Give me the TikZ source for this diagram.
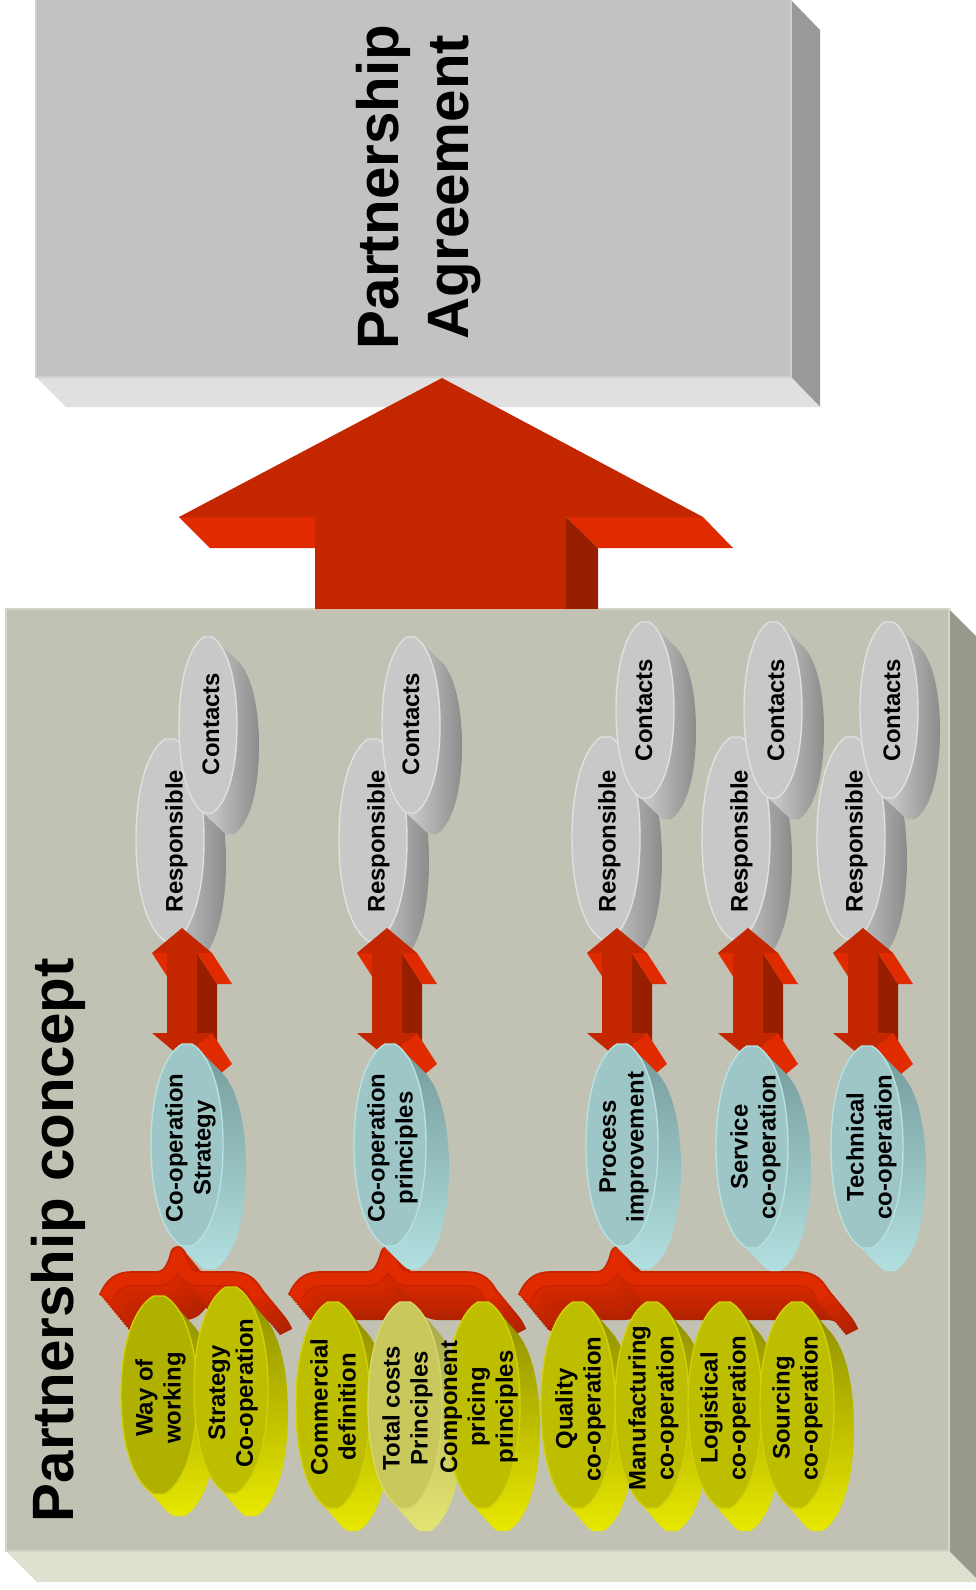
\documentclass[tikz,border=0pt]{standalone}
\usepackage{fontspec}
\setmainfont{Liberation Sans}

% palette
\definecolor{boxfront}{RGB}{194,194,194}
\definecolor{boxrim}{RGB}{208,208,208}
\definecolor{boxside}{RGB}{153,153,153}
\definecolor{boxbottom}{RGB}{224,224,224}
\definecolor{panelfront}{RGB}{194,194,180}
\definecolor{panelrim}{RGB}{214,214,200}
\definecolor{panelside}{RGB}{152,152,140}
\definecolor{panelbottom}{RGB}{224,224,208}
\definecolor{arrowfront}{RGB}{196,38,0}
\definecolor{arrowlight}{RGB}{224,42,0}
\definecolor{arrowdark}{RGB}{152,30,0}
\definecolor{braceedge}{RGB}{200,36,0}
\definecolor{grayfront}{RGB}{200,200,200}
\definecolor{grayrim}{RGB}{224,224,224}
\definecolor{graysideA}{RGB}{236,236,236}
\definecolor{graysideB}{RGB}{140,140,140}
\definecolor{cyanfront}{RGB}{158,198,198}
\definecolor{cyanrim}{RGB}{182,226,226}
\definecolor{cyansideA}{RGB}{178,224,224}
\definecolor{cyansideB}{RGB}{116,154,154}
\definecolor{yelfront}{RGB}{190,190,0}
\definecolor{yeldeep}{RGB}{176,176,0}
\definecolor{yelrim}{RGB}{208,208,10}
\definecolor{yelsideA}{RGB}{232,232,0}
\definecolor{yelsideB}{RGB}{140,140,0}
\definecolor{olivefront}{RGB}{200,200,92}
\definecolor{oliverim}{RGB}{214,214,110}
\definecolor{olivesideA}{RGB}{228,228,116}
\definecolor{olivesideB}{RGB}{165,165,70}

% upright lens outline, slightly blunted at both ends: cx, cy, rx, ry
\newcommand\lenspath[4]{(#1-0.14*#3,#2-#4) -- (#1+0.14*#3,#2-#4)
  .. controls (#1+0.62*#3,#2-0.9*#4) and (#1+#3,#2-0.55*#4) .. (#1+#3,#2)
  .. controls (#1+#3,#2+0.55*#4) and (#1+0.62*#3,#2+0.9*#4) .. (#1+0.14*#3,#2+#4)
  -- (#1-0.14*#3,#2+#4)
  .. controls (#1-0.62*#3,#2+0.9*#4) and (#1-#3,#2+0.55*#4) .. (#1-#3,#2)
  .. controls (#1-#3,#2-0.55*#4) and (#1-0.62*#3,#2-0.9*#4) .. cycle}

% extruded disc: cx, cy, rx, ry, dx, dy, front colour, side style, rim colour
\newcommand\diskshape[9]{%
  \shade[#8] \foreach \k in {0,...,16}{\lenspath{#1+#5*\k/16}{#2+#6*\k/16}{#3}{#4}};
  \filldraw[fill=#7, draw=#9, line width=0.8pt, line join=round] \lenspath{#1}{#2}{#3}{#4};
}

% double-headed 3D arrow centred at x=#1
\newcommand\twinarrow[1]{%
  \fill[arrowdark] (#1+15,953) -- (#1+35,984) -- (#1+35,1064) -- (#1+15,1033) -- cycle;
  \fill[arrowlight] (#1-30,953) -- (#1-15,953) -- (#1+5,984) -- (#1-10,984) -- cycle;
  \fill[arrowlight] (#1+15,953) -- (#1+30,953) -- (#1+50,984) -- (#1+35,984) -- cycle;
  \fill[arrowlight] (#1+30,1033) -- (#1,1058) -- (#1+20,1089) -- (#1+50,1064) -- cycle;
  \fill[arrowfront] (#1,928) -- (#1+30,953) -- (#1+15,953) -- (#1+15,1033) -- (#1+30,1033)
    -- (#1,1058) -- (#1-30,1033) -- (#1-15,1033) -- (#1-15,953) -- (#1-30,953) -- cycle;
}

% horizontal curly bracket: left end, peak, right end
\newcommand\bracketpath[3]{(#1,1298) .. controls (#1+6,1285) and (#1+12,1279) .. (#1+26,1279)
  -- (#2-22,1279) .. controls (#2-10,1279) and (#2-4,1270) .. (#2,1254)
  .. controls (#2+4,1270) and (#2+10,1279) .. (#2+22,1279)
  -- (#3-26,1279) .. controls (#3-12,1279) and (#3-6,1285) .. (#3,1298)}

\newcommand\bracketshape[3]{%
  \foreach \k in {0,...,14}{%
    \pgfmathsetmacro\tt{1-\k/14}
    \pgfmathtruncatemacro\pct{65-4*\k}
    \draw[arrowdark!\pct!arrowlight, line width=8pt, line join=round, shift={({28*\tt},{34*\tt})}] \bracketpath{#1}{#2}{#3};
  }
  \draw[braceedge, line width=9pt, line join=round] \bracketpath{#1}{#2}{#3};
  \draw[arrowlight, line width=7pt, line join=round] \bracketpath{#1}{#2}{#3};
}

\begin{document}
\begin{tikzpicture}[x=0.02cm, y=-0.02cm,
  lbl/.style={font=\fontsize{13.6}{15.9}\selectfont\bfseries, rotate=90, anchor=north, inner sep=0pt, align=center, text=black},
  big/.style={font=\fontsize{33.2}{39.7}\selectfont\bfseries, rotate=90, anchor=north, inner sep=0pt, align=center, text=black},
  graysides/.style={left color=graysideA, right color=graysideB},
  cyansides/.style={top color=cyansideB, bottom color=cyansideA},
  yelsides/.style={top color=yelsideB, bottom color=yelsideA},
  olivesides/.style={top color=olivesideB, bottom color=olivesideA}]
\useasboundingbox (0,0) rectangle (976,1590);
\clip (0,0) rectangle (976,1590);
\fill[white] (0,0) rectangle (976,1590);

% ---- agreement block
\fill[boxside] (791,0) -- (820,30) -- (820,407) -- (791,377) -- cycle;
\fill[boxbottom] (36,377) -- (791,377) -- (820,407) -- (66,407) -- cycle;
\filldraw[fill=boxfront, draw=boxrim, line width=0.8pt] (36,-2) rectangle (791,377);
\node[big] (agreement) at (356,187) {Partnership\\Agreement};

% ---- concept panel
\fill[panelside] (949,609) -- (985,645) -- (985,1587) -- (949,1551) -- cycle;
\fill[panelbottom] (6,1551) -- (949,1551) -- (980,1582) -- (37,1582) -- cycle;
\filldraw[fill=panelfront, draw=panelrim, line width=0.8pt] (6,609) rectangle (949,1551);
\node[big] (concept) at (31,1240) {Partnership concept};

% ---- main upward arrow
\fill[arrowlight] (179,517) -- (315,517) -- (315,548) -- (210,548) -- cycle;
\fill[arrowlight] (566,517) -- (703,517) -- (733,548) -- (598,548) -- cycle;
\fill[arrowdark] (566,517) -- (598,548) -- (598,609) -- (566,609) -- cycle;
\fill[arrowfront] (442,378) -- (703,517) -- (566,517) -- (566,609) -- (315,609)
  -- (315,517) -- (179,517) -- cycle;

% ---- brackets joining the yellow groups
\bracketshape{106}{178}{258}
\bracketshape{295}{388}{492}
\bracketshape{525}{618}{824}

% ---- responsible / contacts discs
\diskshape{170}{840}{34}{101}{22}{22}{grayfront}{graysides}{grayrim}
\node[lbl] (resp1) at (165,841) {Responsible};
\diskshape{208}{725}{29}{88}{22}{21}{grayfront}{graysides}{grayrim}
\node[lbl] (cont1) at (202,724) {Contacts};

\diskshape{373}{840}{34}{101}{22}{22}{grayfront}{graysides}{grayrim}
\node[lbl] (resp2) at (367,841) {Responsible};
\diskshape{411}{725}{29}{88}{22}{21}{grayfront}{graysides}{grayrim}
\node[lbl] (cont2) at (402,724) {Contacts};

\diskshape{606}{838}{34}{101}{22}{22}{grayfront}{graysides}{grayrim}
\node[lbl] (resp3) at (598,841) {Responsible};
\diskshape{645}{710}{29}{88}{22}{21}{grayfront}{graysides}{grayrim}
\node[lbl] (cont3) at (635,710) {Contacts};

\diskshape{736}{838}{34}{101}{22}{22}{grayfront}{graysides}{grayrim}
\node[lbl] (resp4) at (730,841) {Responsible};
\diskshape{773}{710}{29}{88}{22}{21}{grayfront}{graysides}{grayrim}
\node[lbl] (cont4) at (767,710) {Contacts};

\diskshape{851}{838}{34}{101}{22}{22}{grayfront}{graysides}{grayrim}
\node[lbl] (resp5) at (845,841) {Responsible};
\diskshape{889}{710}{29}{88}{22}{21}{grayfront}{graysides}{grayrim}
\node[lbl] (cont5) at (883,710) {Contacts};

% ---- two-way arrows
\twinarrow{182}
\twinarrow{387}
\twinarrow{617}
\twinarrow{748}
\twinarrow{863}

% ---- co-operation discs
\diskshape{187}{1145}{36}{101}{23}{23}{cyanfront}{cyansides}{cyanrim}
\node[lbl] (coop1) at (165,1148) {Co-operation\\Strategy};
\diskshape{390}{1145}{36}{101}{23}{23}{cyanfront}{cyansides}{cyanrim}
\node[lbl] (coop2) at (367,1148) {Co-operation\\principles};
\diskshape{622}{1145}{36}{101}{23}{23}{cyanfront}{cyansides}{cyanrim}
\node[lbl] (coop3) at (599,1147) {Process\\improvement};
\diskshape{752}{1147}{36}{101}{23}{23}{cyanfront}{cyansides}{cyanrim}
\node[lbl] (coop4) at (730,1147) {Service\\co-operation};
\diskshape{867}{1147}{36}{101}{23}{23}{cyanfront}{cyansides}{cyanrim}
\node[lbl] (coop5) at (846,1147) {Technical\\co-operation};

% ---- topic discs
\diskshape{159}{1395}{38}{99}{20}{22}{yeldeep}{yelsides}{yelrim}
\node[lbl] (way) at (135,1398) {Way of\\working};
\diskshape{231}{1390}{37}{103}{20}{23}{yelfront}{yelsides}{yelrim}
\node[lbl] (strat) at (208,1393) {Strategy\\Co-operation};

\diskshape{333}{1405}{37}{103}{20}{23}{yelfront}{yelsides}{yelrim}
\node[lbl] (comm) at (310,1407) {Commercial\\definition};
\diskshape{405}{1405}{37}{103}{20}{23}{olivefront}{olivesides}{oliverim}
\node[lbl] (total) at (382,1408) {Total costs\\Principles};
\diskshape{483}{1405}{37}{103}{20}{23}{yelfront}{yelsides}{yelrim}
\node[lbl] (comp) at (440,1407) {Component\\pricing\\principles};

\diskshape{578}{1405}{37}{103}{20}{23}{yelfront}{yelsides}{yelrim}
\node[lbl] (qual) at (555,1409) {Quality\\co-operation};
\diskshape{652}{1405}{37}{103}{20}{23}{yelfront}{yelsides}{yelrim}
\node[lbl] (manu) at (628,1408) {Manufacturing\\co-operation};
\diskshape{725}{1405}{37}{103}{20}{23}{yelfront}{yelsides}{yelrim}
\node[lbl] (logi) at (700,1408) {Logistical\\co-operation};
\diskshape{797}{1405}{37}{103}{20}{23}{yelfront}{yelsides}{yelrim}
\node[lbl] (sour) at (772,1408) {Sourcing\\co-operation};

\end{tikzpicture}
\end{document}
